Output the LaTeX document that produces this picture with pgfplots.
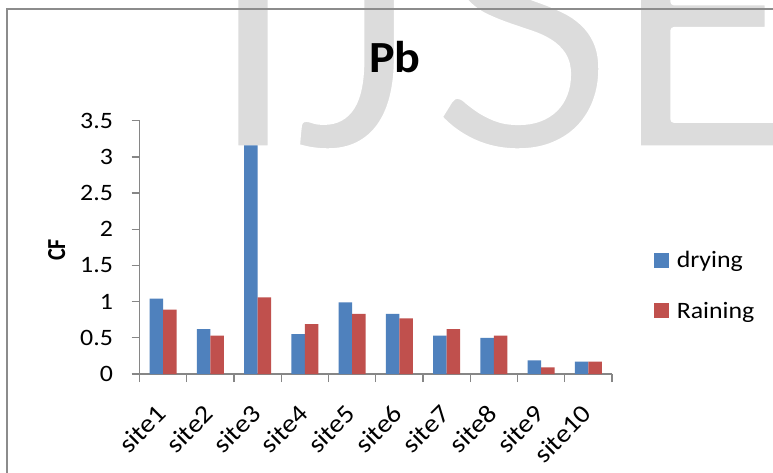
\documentclass[border=0pt]{standalone}
\usepackage{pgfplots}
\pgfplotsset{compat=1.18}
\usepackage{fontspec}
\setmainfont{Carlito}[FakeStretch=1.1]
\newfontfamily\titlefont{Carlito}[FakeStretch=1.08]
\newfontfamily\plainfont{Carlito}
\definecolor{dryblue}{HTML}{4F81BD}
\definecolor{rainred}{HTML}{C0504D}
\definecolor{axisgray}{HTML}{868686}
\definecolor{framegray}{HTML}{8C8C8C}
\definecolor{wmgray}{HTML}{DCDCDC}
\newcommand\ticksize{\fontsize{23.5}{27}\selectfont}
\newcommand\sitesize{\fontsize{25.5}{29}\selectfont}
% light letters: fill, then a white stroke that trims the outline
\newcommand\thinletter[1]{\special{pdf:literal direct 1 1 1 RG 7 w 1 j 2 Tr}#1\special{pdf:literal direct 0 Tr}}

\begin{document}
\begin{tikzpicture}
\useasboundingbox (0,0) rectangle (773pt,-473pt);
\begin{scope}
  \clip (0,0) rectangle (773pt,-473pt);
  \fill[white] (0,0) rectangle (773pt,-473pt);
  % background lettering
  \begin{scope}[every node/.style={inner sep=0pt, text=wmgray, anchor=base,
      font=\plainfont\fontsize{410}{410}\selectfont}]
    \node at (253pt,-149pt) {\thinletter{I}};
    \node at (355pt,-149pt) {\thinletter{J}};
    \node at (522pt,-149pt) {\thinletter{S}};
    \node[anchor=base west] at (608pt,-149pt) {\thinletter{E}};
  \end{scope}
  % chart area frame
  \draw[framegray, line width=2pt] (7pt,-490pt) -- (7pt,-9pt) -- (790pt,-9pt);
\end{scope}

\node[anchor=base, font=\titlefont\bfseries\fontsize{44.5}{50}\selectfont]
  at (395pt,-73pt) {Pb};
\node[rotate=90, anchor=base, font=\plainfont\bfseries\fontsize{22}{26}\selectfont]
  at (65pt,-250pt) {\scalebox{1}[1.18]{CF}};

\begin{axis}[
  at={(139.5pt,-374pt)}, anchor=south west,
  scale only axis, width=472.5pt, height=253.3pt,
  xmin=0.5, xmax=10.5, ymin=0, ymax=3.5,
  axis lines*=left,
  axis line style={-, draw=axisgray, line width=1.3pt},
  ybar=0pt, bar width=13.4pt,
  tick align=outside, major tick length=8pt, minor tick length=8pt,
  tick style={draw=axisgray, line width=1.3pt},
  xtick={1,2,3,4,5,6,7,8,9,10},
  xticklabels={site1,site2,site3,site4,site5,site6,site7,site8,site9,site10},
  minor xtick={0.5,1.5,2.5,3.5,4.5,5.5,6.5,7.5,8.5,9.5,10.5},
  major x tick style={draw=none},
  ytick={0,0.5,1,1.5,2,2.5,3,3.5},
  ticklabel style={font=\ticksize},
  /pgf/number format/assume math mode=true,
  yticklabel style={xshift=-15pt},
  xticklabel style={font=\sitesize, yshift=-25pt, xshift=1pt, rotate=45, anchor=east},
  legend style={at={(1.088,0.35)}, anchor=west, draw=none, fill=none,
    font=\ticksize, row sep=29pt, inner sep=0pt},
  legend cell align=left,
]
\addplot[fill=dryblue, draw=none,
  legend image code/.code={\fill[dryblue] (0pt,-7.5pt) rectangle (15pt,7.5pt);
                           \path (21pt,0pt);}]
  coordinates {(1,1.04) (2,0.62) (3,3.16) (4,0.55) (5,0.99)
               (6,0.83) (7,0.53) (8,0.50) (9,0.19) (10,0.17)};
\addplot[fill=rainred, draw=none,
  legend image code/.code={\fill[rainred] (0pt,-7.5pt) rectangle (15pt,7.5pt);
                           \path (21pt,0pt);}]
  coordinates {(1,0.89) (2,0.53) (3,1.06) (4,0.69) (5,0.83)
               (6,0.77) (7,0.62) (8,0.53) (9,0.09) (10,0.17)};
\legend{drying,Raining}
\end{axis}
\end{tikzpicture}
\end{document}
